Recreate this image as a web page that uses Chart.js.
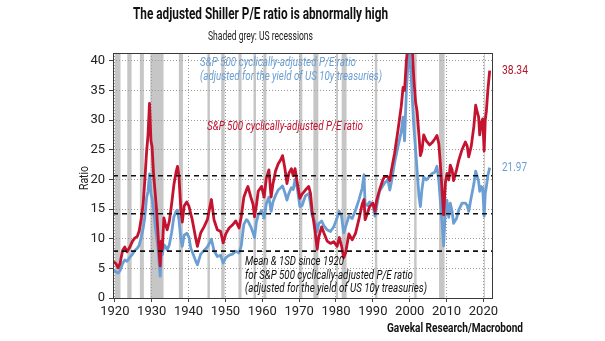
<!DOCTYPE html>
<html><head><meta charset="utf-8">
<script src="https://cdn.jsdelivr.net/npm/chart.js@4"></script>
<style>html,body{margin:0;padding:0;background:#fff;}#wrap{width:605px;height:341px;position:relative;}</style>
</head><body><div id="wrap"><canvas id="c" width="605" height="341"></canvas></div>
<script>
const dates = [
1919.7,1920.3,1920.9,1921.4,1922.1,1922.7,1923.3,1924.0,1924.8,1925.4,
1926.1,1926.6,1927.2,1927.7,1928.1,1928.6,1929.0,1929.4,1929.8,1930.1,
1930.5,1930.9,1931.3,1931.7,1932.0,1932.3,1932.6,1932.9,1933.3,1933.7,
1934.2,1934.8,1935.4,1936.0,1936.6,1937.0,1937.4,1937.9,1938.3,1938.8,
1939.5,1940.1,1940.6,1941.0,1941.9,1942.4,1943.3,1944.2,1945.1,1945.8,
1946.2,1946.9,1947.8,1948.7,1949.4,1950.1,1951.0,1951.9,1952.8,1953.7,
1954.3,1955.0,1955.7,1956.1,1956.9,1957.5,1957.9,1958.4,1958.9,1959.8,
1960.5,1961.1,1961.8,1962.4,1962.9,1963.6,1964.3,1965.0,1965.5,1966.1,
1966.7,1967.2,1967.9,1968.4,1968.9,1969.5,1970.2,1970.8,1971.7,1972.6,
1973.1,1973.5,1974.3,1974.9,1975.3,1976.1,1976.7,1977.6,1978.5,1979.4,
1980.3,1980.9,1981.5,1982.1,1982.6,1983.5,1984.4,1985.3,1986.2,1987.1,
1987.6,1987.9,1988.5,1989.1,1990.0,1990.6,1991.0,1991.8,1992.7,1993.2,
1994.1,1994.6,1995.0,1995.9,1996.8,1997.7,1998.2,1998.6,1999.1,1999.5,
1999.9,2000.3,2000.7,2001.1,2001.6,2002.0,2002.5,2002.9,2003.3,2003.8,
2004.5,2005.4,2006.1,2006.8,2007.4,2007.9,2008.3,2008.8,2009.2,2009.7,
2010.1,2010.6,2011.0,2011.5,2011.9,2012.7,2013.3,2014.2,2015.1,2015.6,
2016.0,2016.7,2017.4,2017.9,2018.3,2018.7,2019.0,2019.4,2019.8,2020.2,
2020.5,2020.8,2021.2,2021.7];

const capeRatio = [
6.1,5.8,5.1,5.8,8.0,8.6,7.8,8.5,9.6,10.1,
10.4,11.3,13.5,16.0,19.5,24.5,27.5,32.8,26.5,25.5,
21.0,18.0,15.0,11.0,7.8,5.4,9.6,8.3,13.5,12.5,
11.5,13.0,15.8,19.0,21.2,22.2,20.5,15.0,12.8,15.5,
16.2,15.5,14.2,13.2,10.2,8.7,11.0,12.0,13.2,15.4,
16.6,13.2,11.5,11.2,9.3,10.8,11.8,12.3,13.0,11.8,
13.7,17.0,18.2,18.8,17.0,15.8,13.7,15.6,18.0,18.8,
17.0,20.2,21.6,17.0,19.2,21.4,22.6,23.3,24.0,22.0,
19.3,21.0,21.8,20.6,21.8,19.4,16.8,17.5,18.2,18.8,
17.6,14.8,11.4,8.2,10.2,12.0,11.0,9.6,9.2,9.5,
8.7,10.2,8.8,6.8,7.6,10.8,9.8,10.9,13.2,15.8,
16.6,13.2,14.2,15.4,16.0,14.6,16.4,18.2,19.9,20.5,
20.4,19.8,21.4,24.4,28.2,32.3,35.5,35.0,40.0,42.5,
44.0,43.5,42.0,37.0,33.0,31.5,27.5,24.0,24.8,27.5,
26.5,25.8,26.2,26.8,27.4,26.0,22.7,18.0,14.0,19.5,
21.0,19.9,22.4,21.6,19.8,21.6,23.2,25.0,26.3,25.6,
23.8,25.6,28.9,32.5,31.4,30.5,27.5,29.5,30.2,24.8,
30.0,31.5,35.0,38.34];

const capeYieldAdjusted = [
4.7,4.4,4.2,4.6,5.8,6.4,6.2,6.8,7.4,8.0,
8.4,8.9,10.3,11.8,13.5,16.8,18.0,20.9,17.5,16.8,
15.0,12.5,10.5,8.5,6.0,3.7,7.2,7.3,9.0,8.7,
8.1,9.0,11.0,13.6,14.6,14.8,13.2,10.0,8.7,10.6,
10.9,10.3,8.4,7.8,6.3,5.6,7.4,8.0,8.6,9.4,
9.9,8.0,7.0,7.2,5.9,6.8,7.2,7.4,7.9,7.6,
8.8,12.4,13.2,13.0,12.0,11.0,10.2,12.8,14.0,14.7,
13.5,15.9,17.0,14.6,16.2,17.3,18.2,18.6,18.9,17.8,
16.5,17.6,18.6,18.3,20.0,18.5,15.4,15.6,17.2,17.6,
15.8,14.0,12.8,11.2,12.5,13.0,12.2,11.5,11.2,12.0,
13.5,14.6,13.8,11.0,12.0,13.8,13.4,14.8,16.5,18.5,
20.8,15.8,15.6,16.2,15.8,13.8,15.4,18.0,18.9,19.4,
19.9,18.2,19.4,22.8,25.5,28.0,30.5,26.5,35.0,39.0,
41.5,38.5,33.8,29.0,25.0,21.6,17.2,15.4,18.2,20.4,
19.9,20.5,21.0,21.2,22.2,19.8,16.5,12.5,8.8,15.2,
16.5,13.6,16.0,14.6,12.6,13.4,14.8,16.0,16.0,15.6,
14.6,17.0,19.2,21.4,20.6,19.6,18.0,18.8,18.6,13.8,
17.6,18.8,20.6,21.97];

const meanAndSD = [7.9, 14.2, 20.6];
const recessionStarts = [1920.0,1923.37,1926.79,1929.62,1937.37,1945.12,1948.87,1953.54,1957.62,1960.29,1969.96,1973.87,1980.04,1981.54,1990.54,2001.21,2007.96,2020.12];
const recessionEnds   = [1921.54,1924.54,1927.87,1933.21,1938.46,1945.79,1949.79,1954.37,1958.29,1961.12,1970.87,1975.21,1980.54,1982.87,1991.21,2001.87,2009.46,2020.29];
const xTickLabels = [1920,1930,1940,1950,1960,1970,1980,1990,2000,2010,2020];
const yTickLabels = [0,5,10,15,20,25,30,35,40];

const X_MIN = 1919.5, X_MAX = 2022.6, Y_MIN = 0, Y_MAX = 41.3;
const RED = '#c4122f', BLUE = '#6b9fd3';
const FONT = "'Liberation Sans Narrow','Roboto',sans-serif";

function pts(vals){ return dates.map((d,i)=>({x:d,y:vals[i]})); }

function fitText(ctx, text, x, y, width, font, color, align, rot){
  ctx.save();
  ctx.font = font; ctx.fillStyle = color; ctx.textBaseline = 'middle'; ctx.textAlign = 'left';
  const w = ctx.measureText(text).width;
  const k = width / w;
  ctx.translate(x, y);
  if (rot) ctx.rotate(rot);
  let x0 = align === 'center' ? -width/2 : (align === 'right' ? -width : 0);
  ctx.translate(x0, 0);
  ctx.scale(k, 1);
  ctx.fillText(text, 0, 0);
  ctx.restore();
}

const decor = {
  id: 'decor',
  beforeDraw(chart){
    const {ctx, chartArea:a, scales:{x}} = chart;
    ctx.save();
    ctx.beginPath(); ctx.rect(a.left, a.top, a.right-a.left, a.bottom-a.top); ctx.clip();
    ctx.fillStyle = '#c6c6c6';
    recessionStarts.forEach((s,i)=>{
      const x0 = x.getPixelForValue(s), x1 = x.getPixelForValue(recessionEnds[i]);
      ctx.fillRect(x0, a.top, Math.max(1, x1-x0), a.bottom-a.top);
    });
    ctx.restore();
  },
  afterDraw(chart){
    const {ctx, chartArea:a, scales:{y}} = chart;
    ctx.save();
    ctx.strokeStyle = '#3a3a3a'; ctx.lineWidth = 1;
    ctx.strokeRect(a.left+0.5, a.top+0.5, a.right-a.left-1, a.bottom-a.top);
    ctx.restore();
    fitText(ctx, 'The adjusted Shiller P/E ratio is abnormally high', 260.5, 14.5, 255, 'bold 17px '+FONT, '#111', 'center');
    fitText(ctx, 'Shaded grey: US recessions', 260.5, 37, 105, '13px '+FONT, '#222', 'center');
    const IT = 'italic 13px '+FONT;
    fitText(ctx, 'S&P 500 cyclically-adjusted P/E ratio', 200, 63, 156, IT, BLUE, 'left');
    fitText(ctx, '(adjusted for the yield of US 10y treasuries)', 200, 77, 182, IT, BLUE, 'left');
    fitText(ctx, 'S&P 500 cyclically-adjusted P/E ratio', 207, 127, 156, IT, RED, 'left');
    fitText(ctx, 'Mean & 1SD since 1920', 245, 262, 99, IT, '#111', 'left');
    fitText(ctx, 'for S&P 500 cyclically-adjusted P/E ratio', 245, 275.5, 168, IT, '#111', 'left');
    fitText(ctx, '(adjusted for the yield of US 10y treasuries)', 245, 289, 182, IT, '#111', 'left');
    fitText(ctx, 'Ratio', 85, 178, 24, '13px '+FONT, '#222', 'center', -Math.PI/2);
    const lastR = capeRatio[capeRatio.length-1], lastB = capeYieldAdjusted[capeYieldAdjusted.length-1];
    fitText(ctx, lastR.toFixed(2), 502, y.getPixelForValue(lastR), 26, '13px '+FONT, '#b01c2e', 'left');
    fitText(ctx, lastB.toFixed(2), 502, y.getPixelForValue(lastB), 25, '13px '+FONT, BLUE, 'left');
    fitText(ctx, 'Gavekal Research/Macrobond', 523, 329, 136, 'bold 13px '+FONT, '#111', 'right');
  }
};

const meanDatasets = meanAndSD.map(v => ({
  data: [{x:X_MIN, y:v},{x:X_MAX, y:v}],
  borderColor: '#111', borderWidth: 1.6, borderDash: [5,4], pointRadius: 0, order: 0
}));

new Chart(document.getElementById('c'), {
  type: 'line',
  data: { datasets: [
    ...meanDatasets,
    { label: 'S&P 500 cyclically-adjusted P/E ratio', data: pts(capeRatio), borderColor: RED, borderWidth: 2.8, pointRadius: 0, tension: 0, order: 1, borderJoinStyle:'round' },
    { label: 'S&P 500 cyclically-adjusted P/E ratio (adjusted for the yield of US 10y treasuries)', data: pts(capeYieldAdjusted), borderColor: BLUE, borderWidth: 2.8, pointRadius: 0, tension: 0, order: 2, borderJoinStyle:'round' }
  ]},
  options: {
    responsive: false, animation: false, devicePixelRatio: 1,
    layout: { padding: { left: 0, top: 53, right: 112, bottom: 0 } },
    plugins: { legend: { display: false }, tooltip: { enabled: false } },
    scales: {
      x: {
        type: 'linear', min: X_MIN, max: X_MAX,
        afterBuildTicks: s => { s.ticks = xTickLabels.map(v => ({ value: v })); },
        afterFit: s => { s.height = 43; },
        ticks: { callback: v => String(v), font: { family: FONT, size: 13 }, color: '#222', padding: 2, maxRotation: 0, autoSkip: false },
        grid: { color: '#9a9a9a', lineWidth: 1, tickLength: 4, tickColor: '#444', tickBorderDash: [] },
        border: { display: false, dash: [1, 2] }
      },
      y: {
        type: 'linear', min: Y_MIN, max: Y_MAX,
        afterBuildTicks: s => { s.ticks = yTickLabels.map(v => ({ value: v })); },
        afterFit: s => { s.width = 113; },
        ticks: { font: { family: FONT, size: 13 }, color: '#222', padding: 4 },
        grid: { color: '#9a9a9a', lineWidth: 1, tickLength: 4, tickColor: '#444', tickBorderDash: [] },
        border: { display: false, dash: [1, 2] }
      }
    }
  },
  plugins: [decor]
});
</script></body></html>
